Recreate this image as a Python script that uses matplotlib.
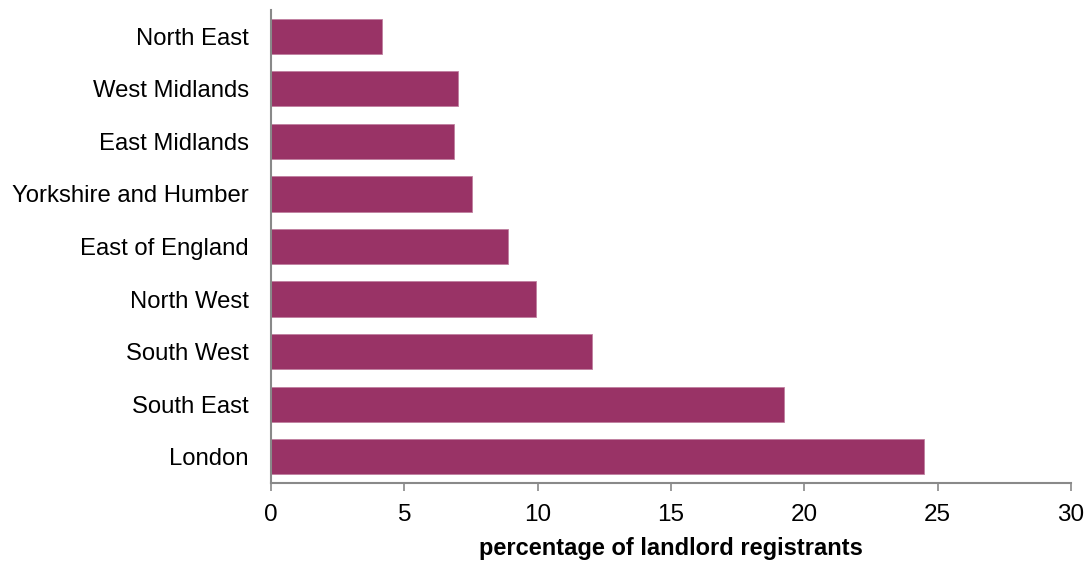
import matplotlib.pyplot as plt

plt.rcParams['font.family'] = ['Liberation Sans', 'DejaVu Sans']

regions = ["North East", "West Midlands", "East Midlands", "Yorkshire and Humber",
           "East of England", "North West", "South West", "South East", "London"]
pct = [4.16, 7.01, 6.86, 7.54, 8.89, 9.94, 12.04, 19.24, 24.49]
xticks = [0, 5, 10, 15, 20, 25, 30]

fig = plt.figure(figsize=(10.88, 5.63), dpi=100)
ax = fig.add_axes([271 / 1088, 80 / 563, 800 / 1088, 473 / 563])

ypos = list(range(len(regions)))
ax.barh(ypos, pct, height=0.67, color="#993366", edgecolor="#c080a0", linewidth=0.6)
ax.set_ylim(len(regions) - 0.5, -0.5)
ax.set_xlim(0, 30)
ax.set_yticks(ypos)
ax.set_yticklabels(regions, fontsize=17.2)
ax.set_xticks(xticks)
ax.set_xticklabels([str(t) for t in xticks], fontsize=17.5)
ax.tick_params(axis="y", length=0, pad=16)
ax.tick_params(axis="x", length=6, width=1.2, color="#898989", pad=9)

for s in ["top", "right"]:
    ax.spines[s].set_visible(False)
for s in ["left", "bottom"]:
    ax.spines[s].set_color("#898989")
    ax.spines[s].set_linewidth(1.5)

ax.set_xlabel("percentage of landlord registrants", fontsize=17, fontweight="bold", labelpad=8)

plt.savefig("out.png", dpi=100)
